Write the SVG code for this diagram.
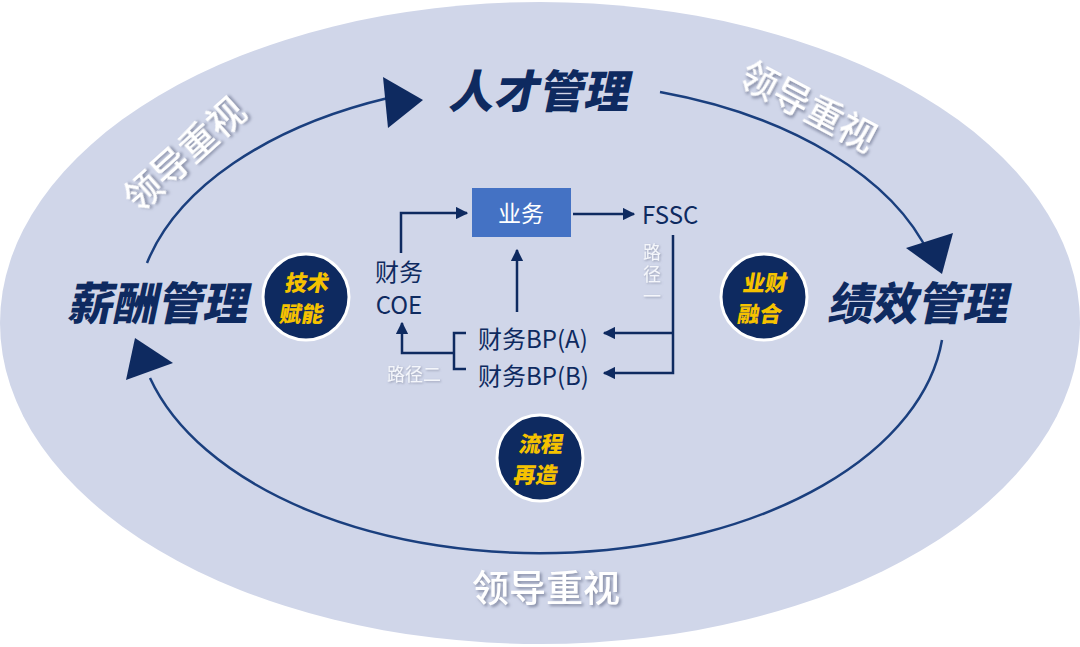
<svg xmlns="http://www.w3.org/2000/svg" width="1080" height="647" viewBox="0 0 1080 647">
<defs>
<style>
.cn{font-family:"Noto Sans CJK SC","Noto Sans",sans-serif;}
.title{font-family:"Noto Sans CJK SC",sans-serif;font-weight:900;font-size:45px;fill:#0e2a60;}
.lead{font-family:"Noto Sans CJK SC",sans-serif;font-weight:500;font-size:37px;fill:#ffffff;filter:url(#sh);}
.badge{fill:#0e2a60;stroke:#ffffff;stroke-width:3;}
.btxt{font-family:"Noto Sans CJK SC",sans-serif;font-weight:900;font-size:22px;fill:#f5c200;text-anchor:middle;}
.lbl{font-family:"Noto Sans CJK SC","Noto Sans",sans-serif;font-size:24px;fill:#0e2a60;}
.path{font-family:"Noto Sans CJK SC",sans-serif;font-size:18px;fill:#f4f6fb;filter:url(#sh2);}
.ln{fill:none;stroke:#0e2a60;stroke-width:2.5;}
.arc{fill:none;stroke:#1a3f7e;stroke-width:2.5;}
.tri{fill:#0e2a60;}
</style>
<filter id="sh" x="-20%" y="-20%" width="140%" height="140%">
<feDropShadow dx="2" dy="2" stdDeviation="1.5" flood-color="#7d849e" flood-opacity="0.9"/>
</filter>
<filter id="sh2" x="-20%" y="-20%" width="140%" height="140%">
<feDropShadow dx="1" dy="1" stdDeviation="1" flood-color="#8a90a8" flood-opacity="0.8"/>
</filter>
<marker id="ah" viewBox="0 0 10 10" refX="9" refY="5" markerWidth="5" markerHeight="5" orient="auto" markerUnits="strokeWidth">
<path d="M0,0 L10,5 L0,10 Z" fill="#0e2a60"/>
</marker>
</defs>
<rect width="1080" height="647" fill="#ffffff"/>
<ellipse cx="540" cy="323" rx="540" ry="321" fill="#d0d6e9"/>

<g id="cycle">
<path class="arc" d="M147,263 A404,237 0 0 1 388,98"/>
<path class="arc" d="M660,92 A404,237 0 0 1 930,256"/>
<path class="arc" d="M942,340 A404,237 0 0 1 150,378"/>
<polygon class="tri" points="383,77 423,100 388,128"/>
<polygon class="tri" points="906,248 953,233 942,274"/>
<polygon class="tri" points="135,338 173,363 126,380"/>
</g>

<g id="lead-labels">
<text class="lead" text-anchor="middle" transform="translate(185,155) rotate(-42)" y="13">领导重视</text>
<text class="lead" text-anchor="middle" transform="translate(808,107) rotate(28)" y="13">领导重视</text>
<text class="lead" text-anchor="middle" x="546" y="602" font-size="38">领导重视</text>
</g>

<g id="node-rencai"><text class="title" text-anchor="middle" transform="translate(538,108) skewX(-12)">人才管理</text></g>
<g id="node-xinchou"><text class="title" text-anchor="middle" transform="translate(157,320) skewX(-12)">薪酬管理</text></g>
<g id="node-jixiao"><text class="title" text-anchor="middle" transform="translate(917,320) skewX(-12)">绩效管理</text></g>

<g id="badge-jishu">
<circle class="badge" cx="306" cy="297" r="43"/>
<text class="btxt" transform="translate(306,291) skewX(-10)"><tspan x="0" y="0">技术</tspan><tspan x="0" y="31">赋能</tspan></text>
</g>
<g id="badge-yecai">
<circle class="badge" cx="764" cy="297" r="43"/>
<text class="btxt" transform="translate(764,291) skewX(-10)"><tspan x="0" y="0">业财</tspan><tspan x="0" y="31">融合</tspan></text>
</g>
<g id="badge-liucheng">
<circle class="badge" cx="540" cy="458" r="43"/>
<text class="btxt" transform="translate(540,452) skewX(-10)"><tspan x="0" y="0">流程</tspan><tspan x="0" y="31">再造</tspan></text>
</g>

<g id="node-yewu">
<rect x="472" y="188" width="99" height="49" fill="#4472c4"/>
<text class="cn" x="521" y="222" text-anchor="middle" font-size="23" fill="#ffffff">业务</text>
</g>
<g id="node-fssc"><text class="lbl" x="642" y="224" font-size="25">FSSC</text></g>
<g id="node-coe">
<text class="lbl" text-anchor="middle" font-size="22"><tspan x="399" y="281">财务</tspan><tspan x="399" y="314">COE</tspan></text>
</g>
<g id="node-bpa"><text class="lbl" x="478" y="348">财务BP(A)</text></g>
<g id="node-bpb"><text class="lbl" x="478" y="385">财务BP(B)</text></g>

<g id="connectors">
<path class="ln" d="M573,214 L634,214" marker-end="url(#ah)"/>
<path class="ln" d="M401,253 L401,213 L467,213" marker-end="url(#ah)"/>
<path class="ln" d="M517,312 L517,250" marker-end="url(#ah)"/>
<path class="ln" d="M673,235 L673,373 L604,373" marker-end="url(#ah)"/>
<path class="ln" d="M673,333 L604,333" marker-end="url(#ah)"/>
<path class="ln" d="M466,333 L454,333 L454,369 L466,369"/>
<path class="ln" d="M454,353 L402,353 L402,323" marker-end="url(#ah)"/>
</g>

<g id="path-labels">
<text class="path" x="414" y="381" text-anchor="middle">路径二</text>
<text class="path" x="652" y="243" writing-mode="vertical-rl" letter-spacing="4">路径一</text>
</g>
</svg>
